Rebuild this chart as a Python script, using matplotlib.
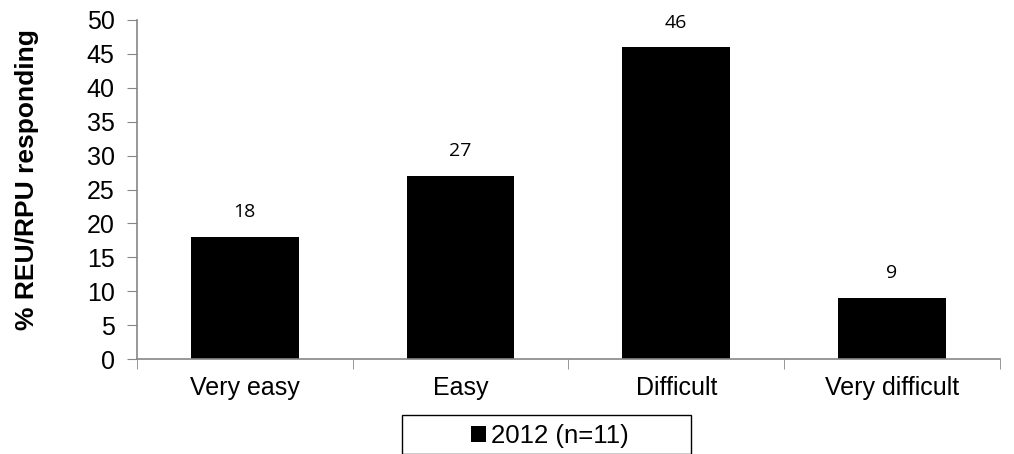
import matplotlib.pyplot as plt
import matplotlib.patches as mpatches
import numpy as np

plt.rcParams['font.family'] = ['Liberation Sans', 'DejaVu Sans']

categories = ['Very easy', 'Easy', 'Difficult', 'Very difficult']
values = [18, 27, 46, 9]
series_name = '2012 (n=11)'

fig = plt.figure(figsize=(10.14, 4.54), dpi=100)
ax = fig.add_axes([0.135, 0.209, 0.851, 0.747])

x = np.arange(len(categories))
bars = ax.bar(x, values, width=0.5, color='black', label=series_name)

for xi, v in zip(x, values):
    ax.text(xi, v + 2.3, str(v), ha='center', va='bottom', fontsize=14,
            family=['Open Sans', 'DejaVu Sans'])

ax.set_xlim(-0.5, len(categories) - 0.5)
ax.set_ylim(0, 50)
ax.set_yticks(np.arange(0, 51, 5))
ax.set_xticks(x)
ax.set_xticklabels(categories)
ax.set_xticks(np.arange(-0.5, len(categories), 1), minor=True)
ax.tick_params(axis='x', which='major', length=0, labelsize=18, pad=12)
ax.tick_params(axis='x', which='minor', length=7, color='#868686', direction='out')
ax.tick_params(axis='y', length=7, color='#868686', labelsize=18, pad=9)

for s in ['top', 'right']:
    ax.spines[s].set_visible(False)
for s in ['left', 'bottom']:
    ax.spines[s].set_color('#868686')
    ax.spines[s].set_linewidth(1.2)

ax.set_ylabel('% REU/RPU responding', fontsize=19, fontweight='bold')
ax.yaxis.set_label_coords(-0.113, 0.53)

# legend box
box = mpatches.Rectangle((402 / 1014, 0), 289 / 1014, (454 - 415) / 454,
                         transform=fig.transFigure, fill=False,
                         edgecolor='black', linewidth=1)
fig.patches.append(box)
fig.legend(handles=[bars], labels=[series_name], loc='center',
           bbox_to_anchor=(550 / 1014, 1 - 436 / 454), fontsize=18.5,
           frameon=False, handlelength=0.55, handleheight=0.55,
           handletextpad=0.2, borderpad=0, borderaxespad=0)

fig.savefig('out.png', dpi=100)
